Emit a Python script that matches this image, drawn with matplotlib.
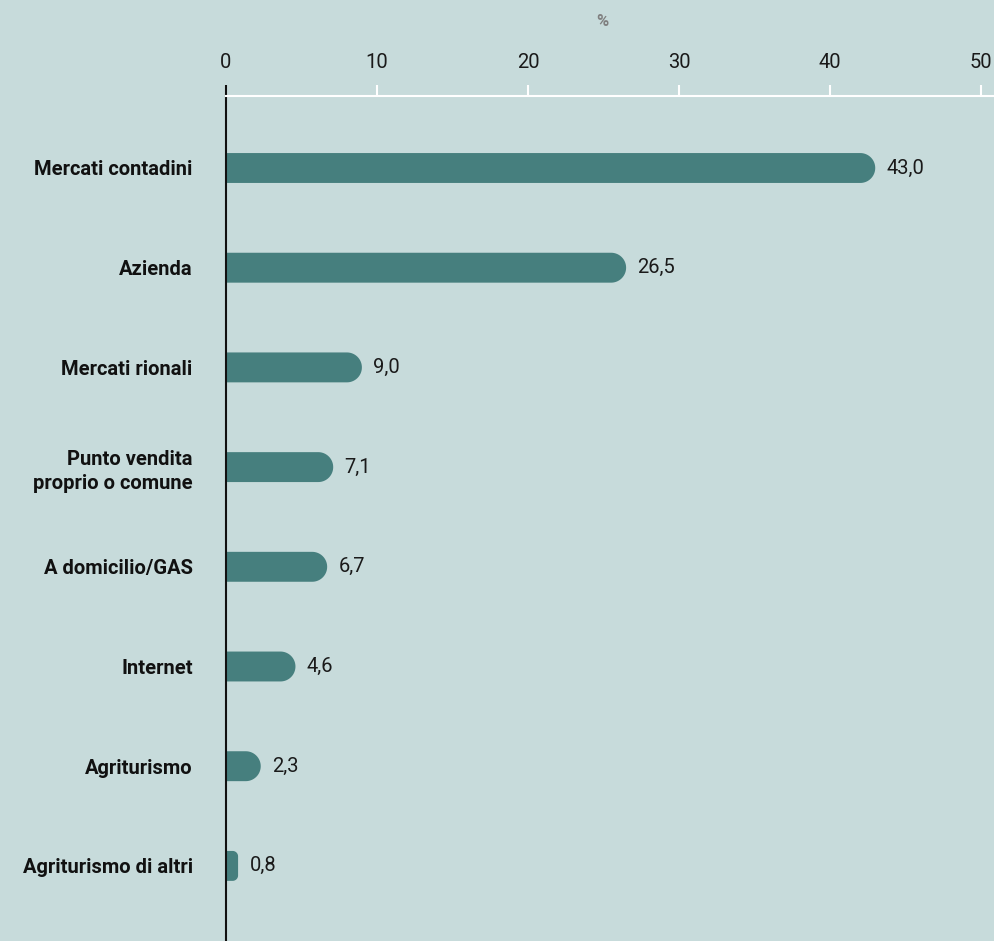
import matplotlib
matplotlib.use('Agg')
import numpy as np
import matplotlib.pyplot as plt
from matplotlib.patches import Polygon

plt.rcParams['font.family'] = ['Roboto', 'DejaVu Sans']

categories = ['Mercati contadini', 'Azienda', 'Mercati rionali',
              'Punto vendita\nproprio o comune', 'A domicilio/GAS',
              'Internet', 'Agriturismo', 'Agriturismo di altri']
values = [43.0, 26.5, 9.0, 7.1, 6.7, 4.6, 2.3, 0.8]
value_labels = ['43,0', '26,5', '9,0', '7,1', '6,7', '4,6', '2,3', '0,8']
xticks = [0, 10, 20, 30, 40, 50]

bg = '#c7dbdb'
bar_col = '#467f7e'

fig = plt.figure(figsize=(9.95, 9.41), dpi=100, facecolor=bg)
ax = fig.add_axes([226 / 995, 0, 767 / 995, 1 - 96 / 941])
ax.set_facecolor(bg)

ax.set_xlim(0, 50.8)
ax.set_ylim((941 - 168) / 99.7, (96 - 168) / 99.7)

bar_h = 0.30
# pixels per data unit, so the rounded end is a real half circle on screen
px_x = 767 / 50.8
px_y = 845 / (ax.get_ylim()[0] - ax.get_ylim()[1])


def rounded_bar(y, v, h):
    ry = h / 2
    rx = ry * px_y / px_x
    if rx > v * 0.45:
        rx = v * 0.45
        ry = rx * px_x / px_y
    y0, y1 = y - h / 2, y + h / 2
    t1 = np.linspace(-np.pi / 2, 0, 20)
    t2 = np.linspace(0, np.pi / 2, 20)
    pts = [(0, y0)]
    pts += list(zip(v - rx + rx * np.cos(t1), y0 + ry + ry * np.sin(t1)))
    pts += list(zip(v - rx + rx * np.cos(t2), y1 - ry + ry * np.sin(t2)))
    pts += [(0, y1)]
    return Polygon(pts, closed=True, fc=bar_col, ec='none')


for i, v in enumerate(values):
    ax.add_patch(rounded_bar(i, v, bar_h))
    ax.text(v + 0.75, i, value_labels[i], va='center', ha='left',
            fontsize=14.5, color='#1a1a1a')

ax.set_yticks(range(len(categories)))
ax.set_yticklabels(categories, fontsize=14.5, fontweight='bold', color='#111111',
                   linespacing=1.35)
ax.tick_params(axis='y', length=0, pad=24)

ax.xaxis.tick_top()
ax.set_xticks(xticks)
ax.set_xticklabels([str(t) for t in xticks], fontsize=14.5, color='#1a1a1a')
ax.tick_params(axis='x', direction='out', length=8, width=1.5, color='white', pad=9)

for s in ['right', 'bottom', 'left']:
    ax.spines[s].set_visible(False)
ax.spines['top'].set_color('white')
ax.spines['top'].set_linewidth(1.5)

ax.plot([0, 0], [0, 1 + 11 / 845], transform=ax.transAxes, color='#111111',
        lw=1.5, clip_on=False, solid_capstyle='butt')

fig.text(602 / 995, 1 - 22 / 941, '%', ha='center', va='center', fontsize=12,
         fontweight='bold', color='#808080')

fig.savefig('out.png', dpi=100, facecolor=bg)
